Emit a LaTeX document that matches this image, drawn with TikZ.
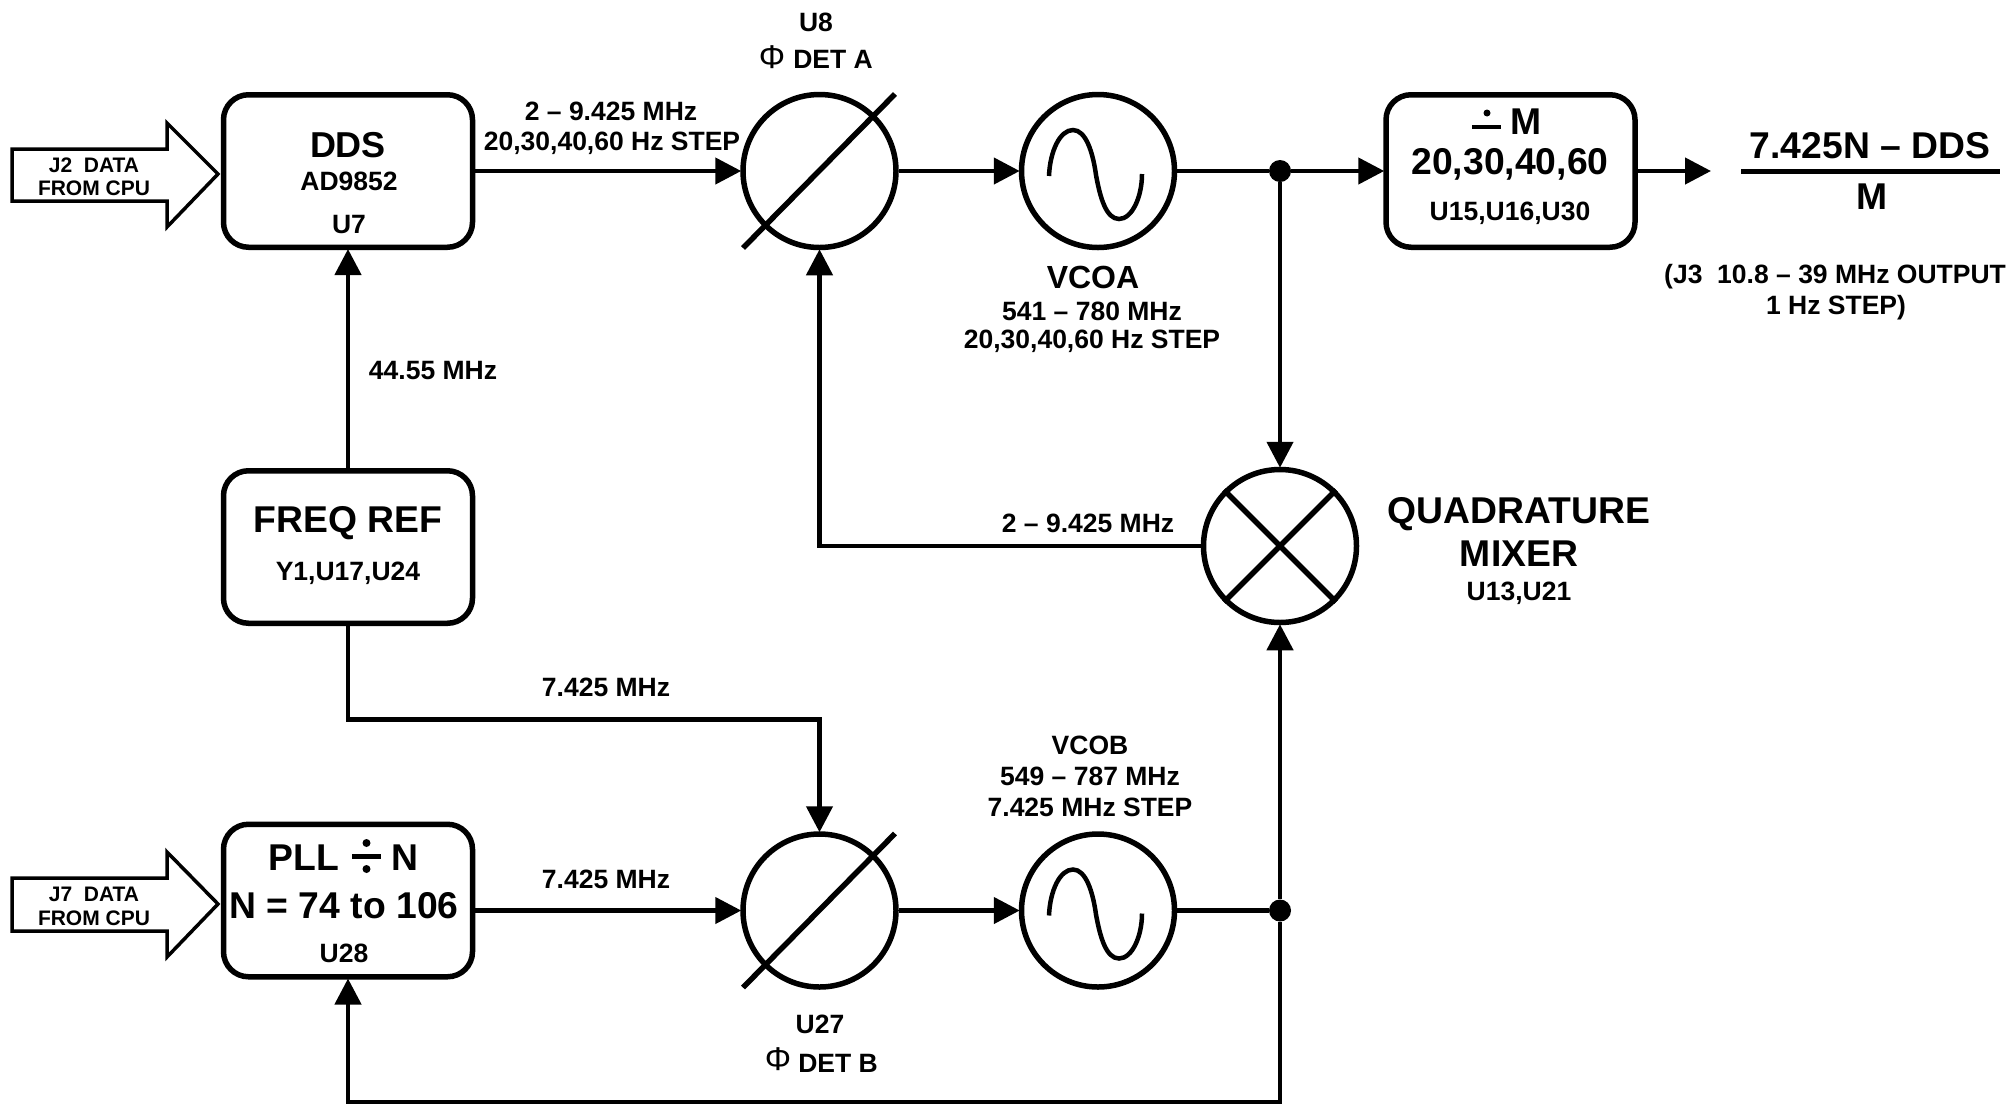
\documentclass[tikz,border=0pt]{standalone}
\usepackage{fontspec}
\setmainfont{Liberation Sans}[BoldFont={Liberation Sans Bold}]
\usetikzlibrary{arrows.meta,calc}
\newcommand{\fsz}[1]{\fontsize{#1}{#1}\selectfont\bfseries}
\tikzset{
  conn/.style={line width=4.5pt,-{Triangle[length=26pt,width=26pt]},shorten >=-1pt},
  wire/.style={line width=4.5pt},
  blk/.style={draw,line width=5.5pt,rounded corners=25pt,minimum width=249pt,minimum height=152.5pt,inner sep=0pt},
  ring/.style={draw,circle,line width=5.5pt,minimum size=153pt,inner sep=0pt},
  dotn/.style={circle,fill=black,minimum size=22pt,inner sep=0pt},
  big/.style={inner sep=0pt,font=\fsz{37.3}},
  mid/.style={inner sep=0pt,font=\fsz{32}},
  lab/.style={inner sep=0pt,font=\fsz{26.5},align=center},
  small/.style={inner sep=0pt,font=\fsz{21},align=center},
  phi/.style={inner sep=0pt,font=\fontsize{33}{33}\selectfont},
  fat/.style={draw,line width=3.5pt,miter limit=10,line join=miter},
}
\begin{document}
\begin{tikzpicture}[x=1pt,y=-1pt]
\useasboundingbox (0,0) rectangle (2013,1104);
% blocks
\node[blk] (dds) at (348,171) {};
\node[blk] (ref) at (348,547) {};
\node[blk] (pll) at (348,900.5) {};
\node[blk] (divm) at (1510.5,171) {};
% rings
\node[ring] (deta) at (819.5,171) {};
\node[ring] (detb) at (819.5,910.5) {};
\node[ring] (vcoa) at (1098,171) {};
\node[ring] (vcob) at (1098,910.5) {};
\node[ring] (mix) at (1280,546) {};
% slashes
\draw[line width=5.5pt] (743,248) -- (895,94);
\draw[line width=5.5pt] (743,987.5) -- (895,833.5);
% mixer cross
\draw[line width=5.5pt] (mix.north west) -- (mix.south east);
\draw[line width=5.5pt] (mix.north east) -- (mix.south west);
% sine waves
\foreach \c in {vcoa,vcob}{
  \draw[line width=4.5pt] ($(\c)+(-49,5)$)
    .. controls ($(\c)+(-48,-20)$) and ($(\c)+(-38,-41)$) .. ($(\c)+(-25,-41)$)
    .. controls ($(\c)+(-12,-41)$) and ($(\c)+(-5,-18)$) .. ($(\c)+(-2,4)$)
    .. controls ($(\c)+(2,26)$) and ($(\c)+(8,48)$) .. ($(\c)+(21,48)$)
    .. controls ($(\c)+(34,48)$) and ($(\c)+(44,26)$) .. ($(\c)+(44,3)$);
}
% dots
\coordinate (jt) at (1280,171);
\coordinate (jb) at (1280,910.5);
\node[dotn] (dota) at (jt) {};
\node[dotn] (dotb) at (jb) {};
% connectors
\draw[conn] (ref.north) -- (dds.south);
\draw[conn] (dds.east |- deta) -- (deta.west);
\draw[conn] (deta.east) -- (vcoa.west);
\draw[wire] (vcoa.east) -- (dota);
\draw[conn] (dota) -- (divm.west |- dota);
\coordinate (outend) at (1711,171);
\draw[conn,shorten >=0pt] (divm.east) -- (outend);
\draw[conn] (dota) -- (mix.north);
\draw[conn] (mix.west) -| (deta.south);
\draw[conn] (ref.south) |- (819.5,719.5) -- (detb.north);
\draw[conn] (pll.east |- detb) -- (detb.west);
\draw[conn] (detb.east) -- (vcob.west);
\draw[wire] (vcob.east) -- (dotb);
\draw[conn] (dotb) -- (mix.south);
\coordinate (fbk) at (1280,1102);
\draw[conn] (dotb) -- (fbk) -| (pll.south);
% input arrows
\draw[fat] (12,149) -- (167,149) -- (167,123) -- (218,174) -- (167,227) -- (167,201) -- (12,201) -- cycle;
\draw[fat] (12,878) -- (167,878) -- (167,852) -- (218,904) -- (167,957) -- (167,931) -- (12,931) -- cycle;
\node[small] (j2a) at (94,165) {J2\ \ DATA};
\node[small] (j2b) at (94,188) {FROM CPU};
\node[small] (j7a) at (94,894) {J7\ \ DATA};
\node[small] (j7b) at (94,918) {FROM CPU};
% block texts
\node[inner sep=0pt,font=\fsz{36}] (t1) at (348,145) {DDS};
\node[lab] (t2) at (349,181) {AD9852};
\node[lab] (t3) at (349,225) {U7};
\node[big] (t4) at (348,523) {FREQ REF};
\node[lab] (t5) at (348,573) {Y1,U17,U24};
\node[big] (t6) at (304,858) {PLL};
\draw[line width=4.5pt] (352,856.5) -- (381,856.5);
\fill (366.5,843) circle (4pt);
\fill (366.5,869) circle (4pt);
\node[big] (t6b) at (405,858) {N};
\node[big] (t7) at (344,906) {N = 74 to 106};
\node[lab] (t8) at (344,953) {U28};
\draw[line width=4.5pt] (1472,127) -- (1501,127);
\fill (1487,113) circle (3.5pt);
\node[big] (t9) at (1526,122) {M};
\node[big] (t10) at (1510,164) {20,30,40,60};
\node[lab] (t11) at (1510,213) {U15,U16,U30};
% signal labels
\node[lab] (l1) at (611,111) {2 -- 9.425 MHz};
\node[lab] (l2) at (612,143) {20,30,40,60 Hz STEP};
\node[lab] (l3) at (433,371) {44.55 MHz};
\node[lab] (l4) at (606,687) {7.425 MHz};
\node[lab] (l5) at (606,879) {7.425 MHz};
\node[lab] (l6) at (1088,523.5) {2 -- 9.425 MHz};
% U8 / U27
\node[lab] (u8) at (816,22) {U8};
\node[phi] (ph1) at (772,57) {Φ};
\node[lab] (da) at (833,59) {DET A};
\node[lab] (u27) at (820,1024) {U27};
\node[phi] (ph2) at (778,1059) {Φ};
\node[lab] (db) at (838,1063) {DET B};
% VCO labels
\node[mid] (v1) at (1093,277) {VCOA};
\node[lab] (v2) at (1092,311) {541 -- 780 MHz};
\node[lab] (v3) at (1092,341) {20,30,40,60 Hz STEP};
\node[lab] (v4) at (1090,745) {VCOB};
\node[lab] (v5) at (1090,776) {549 -- 787 MHz};
\node[lab] (v6) at (1090,807) {7.425 MHz STEP};
% mixer labels
\node[big] (m1) at (1519,514) {QUADRATURE};
\node[big] (m2) at (1519,554) {MIXER};
\node[lab] (m3) at (1519,593) {U13,U21};
% output
\draw[line width=5pt] (1741,171) -- (2000,171);
\node[big] (o1) at (1870,146) {7.425N -- DDS};
\node[big] (o2) at (1872,197) {M};
\node[lab,anchor=west] (o3) at (1664,277) {(J3\ \ 10.8 -- 39 MHz OUTPUT};
\node[lab] (o4) at (1836,308) {1 Hz STEP)};
\end{tikzpicture}
\end{document}
